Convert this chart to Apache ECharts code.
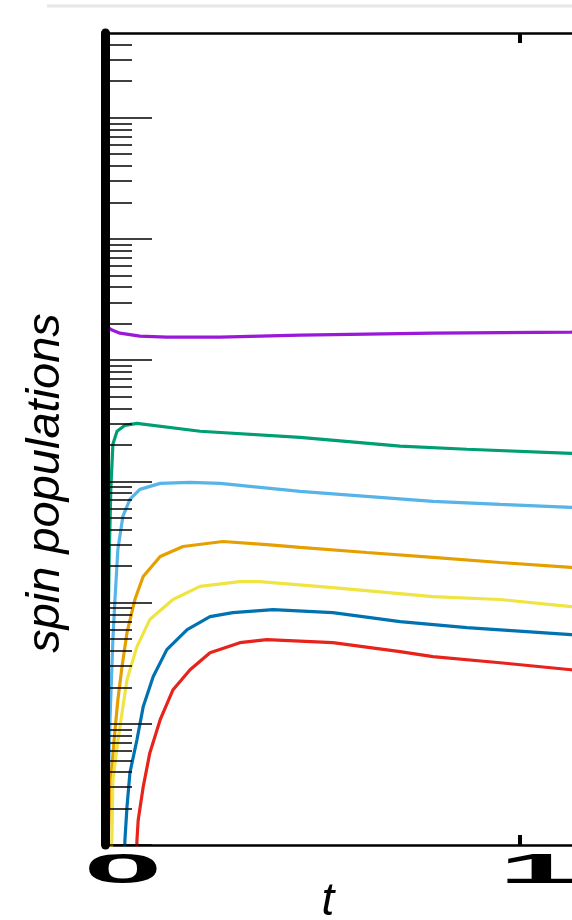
<!DOCTYPE html>
<html><head><meta charset="utf-8">
<script src="https://cdn.jsdelivr.net/npm/echarts@6/dist/echarts.min.js"></script>
<style>html,body{margin:0;padding:0;background:#fff}#c{width:572px;height:920px}</style>
</head><body><div id="c"></div>
<script>
// ---- data: [t, population] ----
const purple = [[0.000,2.0e-3],[0.002,1.91e-3],[0.017,1.77e-3],[0.036,1.67e-3],[0.084,1.58e-3],[0.149,1.55e-3],[0.277,1.55e-3],[0.470,1.61e-3],[0.790,1.67e-3],[1.123,1.70e-3],[1.200,1.72e-3]];
const green = [[0.000,5e-8],[0.005,1.58e-6],[0.010,2.26e-5],[0.014,8.59e-5],[0.019,2.02e-4],[0.029,2.59e-4],[0.048,2.90e-4],[0.077,3.01e-4],[0.229,2.59e-4],[0.470,2.31e-4],[0.711,1.95e-4],[0.872,1.84e-4],[1.123,1.70e-4],[1.200,1.66e-4]];
const lightBlue = [[0.002,5e-8],[0.012,1.08e-6],[0.019,4.94e-6],[0.024,1.06e-5],[0.031,2.74e-5],[0.043,5.14e-5],[0.060,7.10e-5],[0.084,8.59e-5],[0.133,9.62e-5],[0.205,9.82e-5],[0.277,9.62e-5],[0.470,8.26e-5],[0.790,6.84e-5],[0.952,6.46e-5],[1.123,6.10e-5],[1.200,5.9e-5]];
const orange = [[0.005,5e-8],[0.012,2.85e-7],[0.022,7.38e-7],[0.031,1.58e-6],[0.041,2.96e-6],[0.053,5.65e-6],[0.072,1.06e-5],[0.092,1.64e-5],[0.133,2.40e-5],[0.188,2.90e-5],[0.284,3.19e-5],[0.390,3.01e-5],[0.470,2.85e-5],[0.631,2.59e-5],[0.790,2.36e-5],[0.952,2.14e-5],[1.123,1.95e-5],[1.200,1.85e-5]];
const yellow = [[0.014,5e-8],[0.017,1.33e-7],[0.019,3.44e-7],[0.029,6.46e-7],[0.041,1.23e-6],[0.053,2.31e-6],[0.077,4.33e-6],[0.108,7.24e-6],[0.164,1.06e-5],[0.229,1.36e-5],[0.325,1.49e-5],[0.373,1.49e-5],[0.549,1.33e-5],[0.790,1.12e-5],[0.952,1.06e-5],[1.123,9.27e-6],[1.200,8.9e-6]];
const blue = [[0.046,5e-8],[0.048,1.10e-7],[0.053,2.06e-7],[0.060,3.94e-7],[0.077,7.38e-7],[0.092,1.38e-6],[0.116,2.44e-6],[0.149,4.09e-6],[0.198,5.98e-6],[0.253,7.66e-6],[0.308,8.26e-6],[0.405,8.75e-6],[0.549,8.26e-6],[0.711,6.97e-6],[0.872,6.21e-6],[1.123,5.44e-6],[1.200,5.2e-6]];
const red = [[0.075,5e-8],[0.077,1.10e-7],[0.080,1.61e-7],[0.092,3.01e-7],[0.108,5.75e-7],[0.133,1.08e-6],[0.164,1.91e-6],[0.205,2.79e-6],[0.253,3.86e-6],[0.325,4.67e-6],[0.390,4.94e-6],[0.549,4.67e-6],[0.711,3.94e-6],[0.790,3.58e-6],[0.952,3.19e-6],[1.123,2.79e-6],[1.200,2.65e-6]];

const seriesNames = ['purple','green','lightBlue','orange','yellow','blue','red'];
const seriesData = [purple, green, lightBlue, orange, yellow, blue, red];
const seriesColors = ['#9a18d8','#009e73','#56b4e9','#e69f00','#f0e442','#0072b2','#e8231b'];

const xTickValues = [0, 1];
const xTickLabels = ['0', '1'];
const yMajorTicks = [1e-7, 1e-6, 1e-5, 1e-4, 1e-3, 1e-2, 1e-1];
const yMinorMantissas = [2, 3, 4, 5, 6, 7, 8, 9];
const yMin = 1e-7, yMax = 0.5;
const xMin = 0, xMax = 1.2;

const yMinorTicks = [];
yMajorTicks.forEach(d => yMinorMantissas.forEach(m => { const v = +(m * d).toPrecision(3); if (v < yMax) yMinorTicks.push(v); }));

const chart = echarts.init(document.getElementById('c'), null, {renderer: 'canvas'});
const commonY = {type: 'log', logBase: 10, min: yMin, max: yMax, axisLabel: {show: false}, splitLine: {show: false}, minorTick: {show: false}};
chart.setOption({
  animation: false,
  backgroundColor: '#fff',
  grid: {left: 105, top: 33, bottom: 75, right: -31, containLabel: false, outerBoundsMode: 'none'},
  xAxis: [
    {type: 'value', min: xMin, max: xMax, interval: 1, position: 'bottom',
     axisLine: {show: true, onZero: false, lineStyle: {color: '#000', width: 2.5}},
     axisTick: {show: true, inside: true, length: 10, lineStyle: {color: '#000', width: 4}},
     axisLabel: {show: false}, splitLine: {show: false},
     name: 't', nameLocation: 'middle', nameGap: 34,
     nameTextStyle: {fontSize: 46, fontStyle: 'italic', fontFamily: 'Liberation Sans', color: '#000', padding: [0, 52, 0, 0]}},
    {type: 'value', min: xMin, max: xMax, interval: 1, position: 'top',
     axisLine: {show: true, onZero: false, lineStyle: {color: '#000', width: 2.5}},
     axisTick: {show: true, inside: true, length: 10, lineStyle: {color: '#000', width: 4}},
     axisLabel: {show: false}, splitLine: {show: false}}
  ],
  yAxis: [
    Object.assign({}, commonY, {position: 'left', z: 5,
     axisLine: {show: true, lineStyle: {color: '#000', width: 9}},
     axisTick: {show: true, inside: true, length: 47, customValues: yMajorTicks, lineStyle: {color: '#000', width: 1.5}},
     name: 'spin populations', nameLocation: 'middle', nameGap: 36,
     nameTextStyle: {fontSize: 47, fontStyle: 'italic', fontFamily: 'Liberation Sans', color: '#000', padding: [0, 88, 0, 0]}}),
    Object.assign({}, commonY, {position: 'left', offset: 0, z: 5,
     axisLine: {show: false},
     axisTick: {show: true, inside: true, length: 27, customValues: yMinorTicks, lineStyle: {color: '#000', width: 1.5}}})
  ],
  series: seriesData.map((d, i) => ({
    name: seriesNames[i], type: 'line', data: d, xAxisIndex: 0, yAxisIndex: 0,
    showSymbol: false, clip: true, lineStyle: {color: seriesColors[i], width: 3.2}, z: 2
  }))
});

// big stretched tick labels placed through the x axis scale
const labelGraphics = xTickValues.map((v, i) => {
  const px = chart.convertToPixel({xAxisIndex: 0}, v);
  return {type: 'text', x: px + 18, y: 871, scaleX: 3.3, z: 10,
    style: {text: xTickLabels[i], font: 'bold 43px "Liberation Sans"', fill: '#000', align: 'center', verticalAlign: 'middle', textAlign: 'center', textVerticalAlign: 'middle'}};
});
labelGraphics.push({type: 'line', z: 10, shape: {x1: 47, y1: 6, x2: 572, y2: 6}, style: {stroke: '#e6e6e6', lineWidth: 3}});
chart.setOption({graphic: labelGraphics});
</script></body></html>
